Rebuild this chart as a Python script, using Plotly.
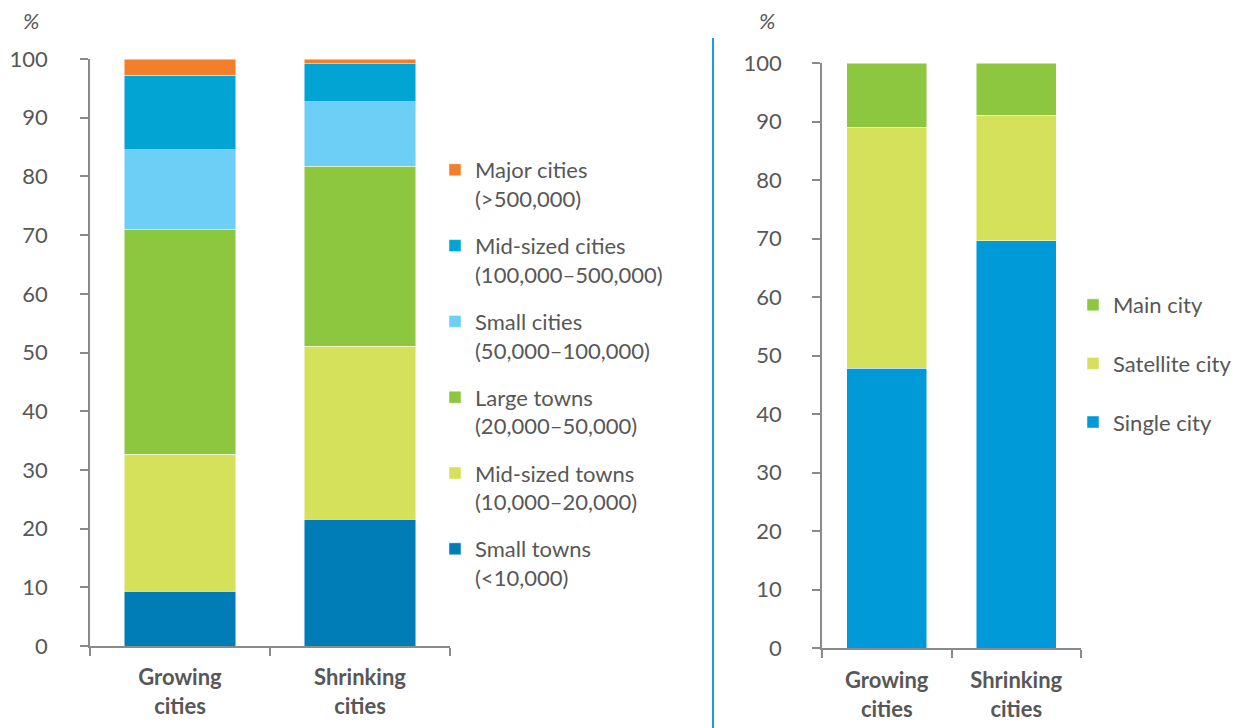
import plotly.graph_objects as go

categories = ["<b>Growing<br>cities</b>", "<b>Shrinking<br>cities</b>"]

# Left chart: share by settlement size (%)
size_names = [
    "Small towns<br>(<10,000)",
    "Mid-sized towns<br>(10,000–20,000)",
    "Large towns<br>(20,000–50,000)",
    "Small cities<br>(50,000–100,000)",
    "Mid-sized cities<br>(100,000–500,000)",
    "Major cities<br>(>500,000)",
]
size_growing = [9.3, 23.4, 38.2, 13.6, 12.7, 2.8]
size_shrinking = [21.6, 29.5, 30.6, 11.0, 6.5, 0.8]
size_colors = ["#007DB7", "#D5E05B", "#8DC63F", "#6DCFF6", "#02A4D3", "#F47F2A"]

# Right chart: share by city type (%)
type_names = ["Single city", "Satellite city", "Main city"]
type_growing = [47.8, 41.2, 11.0]
type_shrinking = [69.6, 21.5, 8.9]
type_colors = ["#009AD8", "#D5E05B", "#8DC63F"]

y_ticks = [0, 10, 20, 30, 40, 50, 60, 70, 80, 90, 100]

FONT = "Lato"
TXT = "#575757"
AX = "#8a8a8a"
FS = 22

fig = go.Figure()

n1 = len(size_names)
for i, name in enumerate(size_names):
    fig.add_trace(go.Bar(
        x=categories, y=[size_growing[i], size_shrinking[i]], name=name,
        marker=dict(color=size_colors[i], line=dict(color="rgba(255,255,255,0.6)", width=0.8)),
        xaxis="x", yaxis="y", legend="legend", legendgroup="s%d" % i,
        legendrank=n1 - i, hoverinfo="name+y",
    ))

n2 = len(type_names)
for i, name in enumerate(type_names):
    fig.add_trace(go.Bar(
        x=categories, y=[type_growing[i], type_shrinking[i]], name=name,
        marker=dict(color=type_colors[i], line=dict(color="rgba(255,255,255,0.6)", width=0.8)),
        xaxis="x2", yaxis="y2", legend="legend2", legendgroup="t%d" % i,
        legendrank=n2 - i, hoverinfo="name+y",
    ))

W, H = 1240, 728

def px(x):
    return x / W

def py(y):
    return (H - y) / H

yaxis_common = dict(
    range=[0, 100], tickvals=y_ticks, showgrid=False, zeroline=False,
    showline=True, linecolor=AX, linewidth=1.5, automargin=False,
    ticks="outside", ticklen=8, tickcolor=AX, tickwidth=1.5,
    tickfont=dict(family=FONT, size=FS, color=TXT),
)
xaxis_common = dict(
    showgrid=False, zeroline=False, showline=True, linecolor=AX, linewidth=1.5,
    ticks="outside", ticklen=8, tickcolor=AX, tickwidth=1.5, tickson="boundaries",
    automargin=False,
    tickfont=dict(family=FONT, size=FS, color=TXT),
)

fig.update_layout(
    width=W, height=H,
    margin=dict(l=0, r=0, t=0, b=0),
    paper_bgcolor="white", plot_bgcolor="white",
    barmode="stack", bargap=0.38,
    font=dict(family=FONT, color=TXT),
    xaxis=dict(domain=[px(90), px(450)], anchor="y", ticklabelstandoff=11, **xaxis_common),
    yaxis=dict(domain=[py(646), py(59)], anchor="x", ticklabelstandoff=28, **yaxis_common),
    xaxis2=dict(domain=[px(822), px(1081)], anchor="y2", ticklabelstandoff=12, **xaxis_common),
    yaxis2=dict(domain=[py(648), py(63)], anchor="x2", ticklabelstandoff=26, **yaxis_common),
    legend=dict(
        x=px(435), y=py(149), xanchor="left", yanchor="top",
        traceorder="grouped", tracegroupgap=15.6, valign="top",
        font=dict(family=FONT, size=FS, color=TXT), bgcolor="rgba(0,0,0,0)",
    ),
    legend2=dict(
        x=px(1073), y=py(284), xanchor="left", yanchor="top",
        traceorder="grouped", tracegroupgap=27, valign="middle",
        font=dict(family=FONT, size=FS, color=TXT), bgcolor="rgba(0,0,0,0)",
    ),
    showlegend=True,
)

fig.add_annotation(x=px(21), y=py(20), xref="paper", yref="paper", text="<i>%</i>",
                   showarrow=False, xanchor="left", yanchor="middle",
                   font=dict(family=FONT, size=FS, color=TXT))
fig.add_annotation(x=px(757), y=py(20), xref="paper", yref="paper", text="<i>%</i>",
                   showarrow=False, xanchor="left", yanchor="middle",
                   font=dict(family=FONT, size=FS, color=TXT))

fig.add_shape(type="line", xref="paper", yref="paper",
              x0=px(713), x1=px(713), y0=py(38), y1=0,
              line=dict(color="#1B9FD6", width=2))

fig.write_html("out.html")
